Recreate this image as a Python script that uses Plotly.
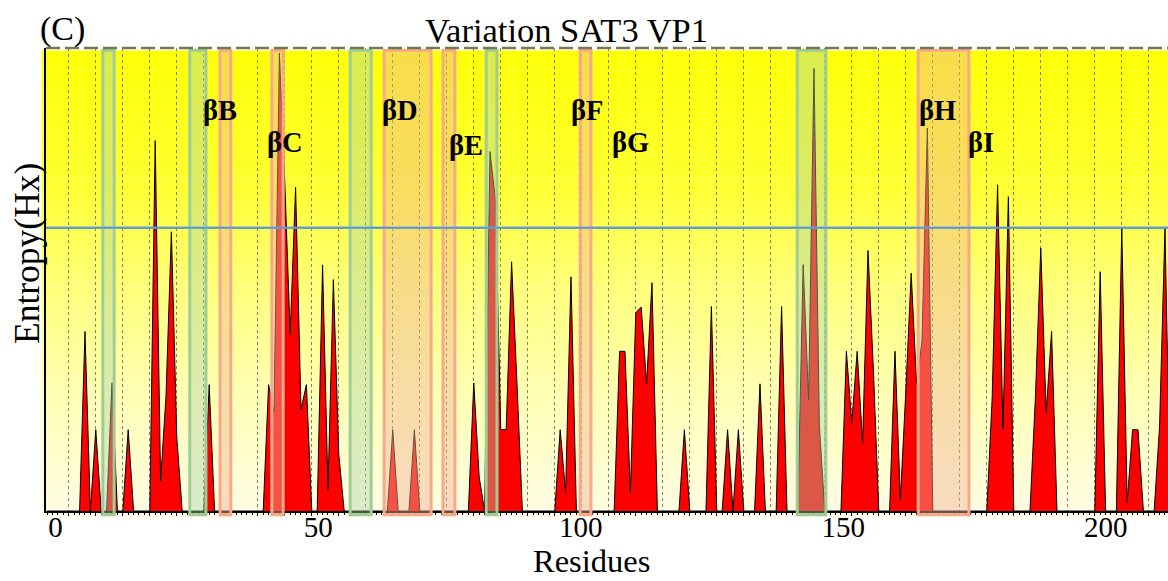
import plotly.graph_objects as go

# ---------------- data ----------------
RESIDUE_FIRST, RESIDUE_LAST = 1, 209
# residues with non-zero entropy and their entropy (Hx) values
VAR_RESIDUES = [8, 10, 13, 16, 21, 22, 23, 24, 25, 31,
                42, 43, 44, 45, 46, 47, 48, 49, 52, 53, 54, 55,
                65, 69, 80, 81, 83, 84, 85, 86, 87, 88,
                96, 97, 98, 107, 108, 109, 110, 111, 112, 113,
                119, 124, 127, 129, 133, 137, 141, 142, 143, 144,
                149, 150, 151, 152, 153, 154, 158, 159, 160, 161, 162, 163, 164,
                176, 177, 178, 179, 184, 185, 186, 187,
                196, 200, 201, 202, 203, 207, 208]
VAR_ENTROPY = [0.634, 0.287, 0.453, 0.287, 1.308, 0.105, 0.405, 0.986, 0.26, 0.446,
               0.446, 0.35, 1.617, 1.16, 0.623, 1.144, 0.358, 0.446, 0.869, 0.076, 0.817, 0.2,
               0.287, 0.287, 0.452, 0.12, 1.269, 1.099, 0.287, 0.287, 0.88, 0.45,
               0.287, 0.065, 0.827, 0.564, 0.564, 0.065, 0.70, 0.72, 0.45, 0.806,
               0.287, 0.722, 0.287, 0.287, 0.449, 0.722, 0.87, 0.393, 1.563, 0.3,
               0.564, 0.311, 0.564, 0.24, 0.92, 0.5, 0.564, 0.04, 0.42, 0.84, 0.45, 0.6, 1.352,
               0.4, 1.152, 0.287, 1.11, 0.4, 0.929, 0.346, 0.634,
               0.845, 1.0, 0.03, 0.287, 0.287, 0.3, 1.0]
THRESHOLD = 1.0
X_TICKS = [0, 50, 100, 150, 200]

# strand regions (residue coordinates)
GREEN_START = [11.3, 27.4, 57.1, 82.3, 139.9]
GREEN_END = [13.4, 30.4, 61.0, 84.3, 145.2]
ORANGE_START = [33.0, 42.6, 63.4, 74.3, 99.7, 162.3]
ORANGE_END = [35.0, 44.7, 72.1, 76.5, 101.7, 171.7]

STRAND_NAMES = ["βB", "βC", "βD", "βE", "βF", "βG", "βH", "βI"]
STRAND_LABEL_X = [33.0, 45.0, 66.3, 78.6, 101.0, 109.1, 165.9, 173.9]
STRAND_LABEL_Y = [1.415, 1.30, 1.415, 1.29, 1.415, 1.30, 1.415, 1.30]

# axis ranges
DATA_X_RANGE = [0.78, 208.56]      # residue scale of the plotted series
LABEL_X_RANGE = [-1.83, 211.85]    # scale of the printed tick labels
Y_RANGE = [0, 1.635]

FONT = "Liberation Serif"

# ---------------- figure ----------------
lookup = dict(zip(VAR_RESIDUES, VAR_ENTROPY))
residues = list(range(RESIDUE_FIRST, RESIDUE_LAST + 1))
entropy = [lookup.get(r, 0.0) for r in residues]

fig = go.Figure()
fig.add_trace(go.Scatter(
    x=residues, y=entropy, mode="lines",
    line=dict(color="black", width=1),
    fill="tozeroy", fillcolor="#FF0000",
    showlegend=False, hoverinfo="x+y"))
# carrier for the label axis
fig.add_trace(go.Scatter(x=[X_TICKS[0]], y=[Y_RANGE[0]], xaxis="x2", mode="markers",
                         marker=dict(opacity=0), showlegend=False, hoverinfo="skip"))

shapes = []
# yellow gradient background
stops = [(0.0, (255, 255, 5)), (0.3, (255, 255, 50)), (0.5, (255, 255, 120)),
         (0.75, (255, 255, 182)), (1.0, (255, 252, 228))]


def grad(t):
    for (t0, c0), (t1, c1) in zip(stops[:-1], stops[1:]):
        if t <= t1:
            f = (t - t0) / (t1 - t0)
            return "rgb(%d,%d,%d)" % tuple(round(a + (b - a) * f) for a, b in zip(c0, c1))
    return "rgb(%d,%d,%d)" % stops[-1][1]


N = 90
top, bot = 1.006, -0.012
for i in range(N):
    y1 = top - (top - bot) * i / N
    y0 = top - (top - bot) * (i + 1) / N
    shapes.append(dict(type="rect", xref="paper", yref="paper", x0=-0.004, x1=1.0,
                       y0=y0 - 0.001, y1=y1, fillcolor=grad((i + 0.5) / N),
                       line=dict(width=0), layer="below"))

# strand regions
for s, e in zip(GREEN_START, GREEN_END):
    shapes.append(dict(type="rect", xref="x", yref="paper", x0=s, x1=e, y0=-0.008, y1=0.995,
                       fillcolor="rgba(170,210,170,0.42)",
                       line=dict(color="rgb(160,205,150)", width=3), layer="above"))
for s, e in zip(ORANGE_START, ORANGE_END):
    shapes.append(dict(type="rect", xref="x", yref="paper", x0=s, x1=e, y0=-0.008, y1=0.995,
                       fillcolor="rgba(240,180,150,0.45)",
                       line=dict(color="rgb(245,170,140)", width=3), layer="above"))
# dashed top border
shapes.append(dict(type="line", xref="paper", yref="paper", x0=0, x1=1, y0=1, y1=1,
                   line=dict(color="rgb(120,120,80)", width=2.5, dash="14px,5px"),
                   layer="above"))

annotations = []
for name, lx, ly in zip(STRAND_NAMES, STRAND_LABEL_X, STRAND_LABEL_Y):
    annotations.append(dict(x=lx, y=ly, xref="x", yref="y", text="<b>%s</b>" % name,
                            showarrow=False, xanchor="center", yanchor="middle",
                            font=dict(family=FONT, size=28.5, color="black")))

W, H = 1168, 581
L, T, B = 46, 48, 70


def px(xp, yp):
    return (xp - L) / (W - L), (H - B - yp) / (H - T - B)


for text, (xp, yp), size, ang in [
        ("(C)", (62, 29), 34, 0),
        ("Variation SAT3 VP1", (566, 30), 34.5, 0),
        ("Residues", (591, 561), 32.5, 0),
        ("Entropy(Hx)", (27, 254), 35.5, -90)]:
    ax_, ay_ = px(xp, yp)
    annotations.append(dict(x=ax_, y=ay_, xref="paper", yref="paper", text=text,
                            showarrow=False, textangle=ang, xanchor="center", yanchor="middle",
                            font=dict(family=FONT, size=size, color="black")))

fig.add_hline(y=THRESHOLD, line=dict(color="rgb(91,155,213)", width=2))

fig.update_layout(
    width=W, height=H,
    margin=dict(l=L, r=0, t=T, b=B),
    paper_bgcolor="white", plot_bgcolor="rgba(0,0,0,0)",
    shapes=shapes + list(fig.layout.shapes), annotations=annotations,
    showlegend=False,
    font=dict(family=FONT, color="black"),
    xaxis=dict(range=DATA_X_RANGE, showgrid=True, dtick=5, tick0=0,
               griddash="dot", gridcolor="rgba(110,110,90,0.85)", gridwidth=1,
               showticklabels=False, ticks="outside", ticklen=3, tickcolor="black",
               minor=dict(dtick=1, ticks="outside", ticklen=2, tickcolor="black", showgrid=False),
               showline=True, linecolor="black", linewidth=1.5, zeroline=False),
    xaxis2=dict(range=LABEL_X_RANGE, overlaying="x", side="bottom", anchor="y",
                tickvals=X_TICKS, ticks="", showgrid=False, showline=False, zeroline=False,
                ticklabelstandoff=-4,
                tickfont=dict(family=FONT, size=29, color="black")),
    yaxis=dict(range=Y_RANGE, showgrid=False, showticklabels=False, ticks="",
               showline=True, linecolor="black", linewidth=1.5, zeroline=False),
)

fig.write_html("out.html", config={"displayModeBar": False},
               post_script="document.body.style.margin='0';document.body.style.overflow='hidden';")
